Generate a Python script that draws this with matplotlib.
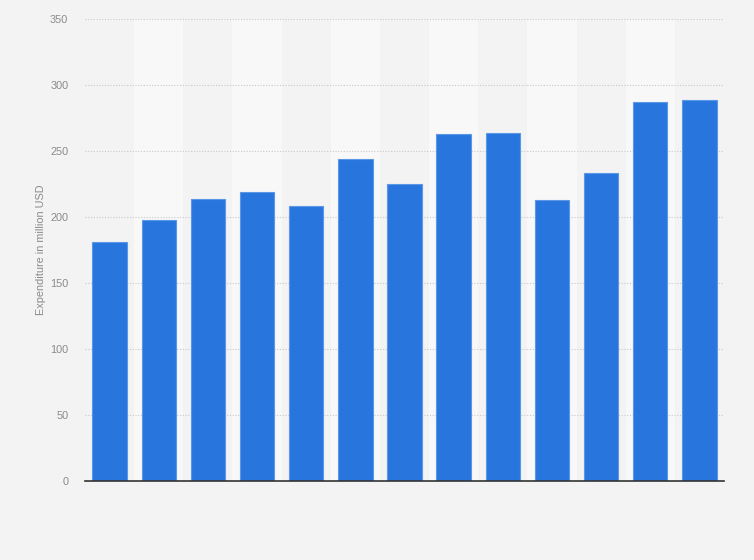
import numpy as np
import matplotlib.pyplot as plt

plt.rcParams['font.family'] = ['Liberation Sans', 'DejaVu Sans']

# values (million USD), 13 unlabeled bars
values = [181, 198, 214, 219, 208, 244, 225, 263, 264, 213, 233, 287, 289]
yticks = [0, 50, 100, 150, 200, 250, 300, 350]
ylabel = 'Expenditure in million USD'

bg = '#f3f3f3'
band = '#f8f8f8'
bar_col = '#2876dd'

fig = plt.figure(figsize=(7.54, 5.6), dpi=100, facecolor=bg)
ax = fig.add_axes([0.1127, 0.141, 0.8475, 0.825])
ax.set_facecolor(bg)

n = len(values)
x = np.arange(n)
# alternating lighter column bands
for i in range(1, n, 2):
    ax.axvspan(i - 0.5, i + 0.5, color=band, zorder=0, lw=0)

ax.bar(x, values, width=0.7, color=bar_col, edgecolor='#5a97e6', linewidth=0.8, zorder=3)

ax.set_xlim(-0.5, n - 0.5)
ax.set_ylim(0, 350)
ax.set_yticks(yticks)
ax.set_xticks([])
ax.yaxis.grid(True, linestyle=(0, (1, 1.5)), color='#c8c8c8', linewidth=0.8, zorder=1)
ax.set_axisbelow(True)
ax.tick_params(axis='y', length=0, labelsize=7.8, labelcolor='#8a8a8a', pad=12)

for s in ['top', 'right', 'left']:
    ax.spines[s].set_visible(False)
ax.spines['bottom'].set_color('#333333')
ax.spines['bottom'].set_linewidth(1.2)
ax.spines['bottom'].set_zorder(4)

ax.set_ylabel(ylabel, fontsize=7.8, color='#8a8a8a', labelpad=3)

fig.savefig('out.png', dpi=100, facecolor=bg)
